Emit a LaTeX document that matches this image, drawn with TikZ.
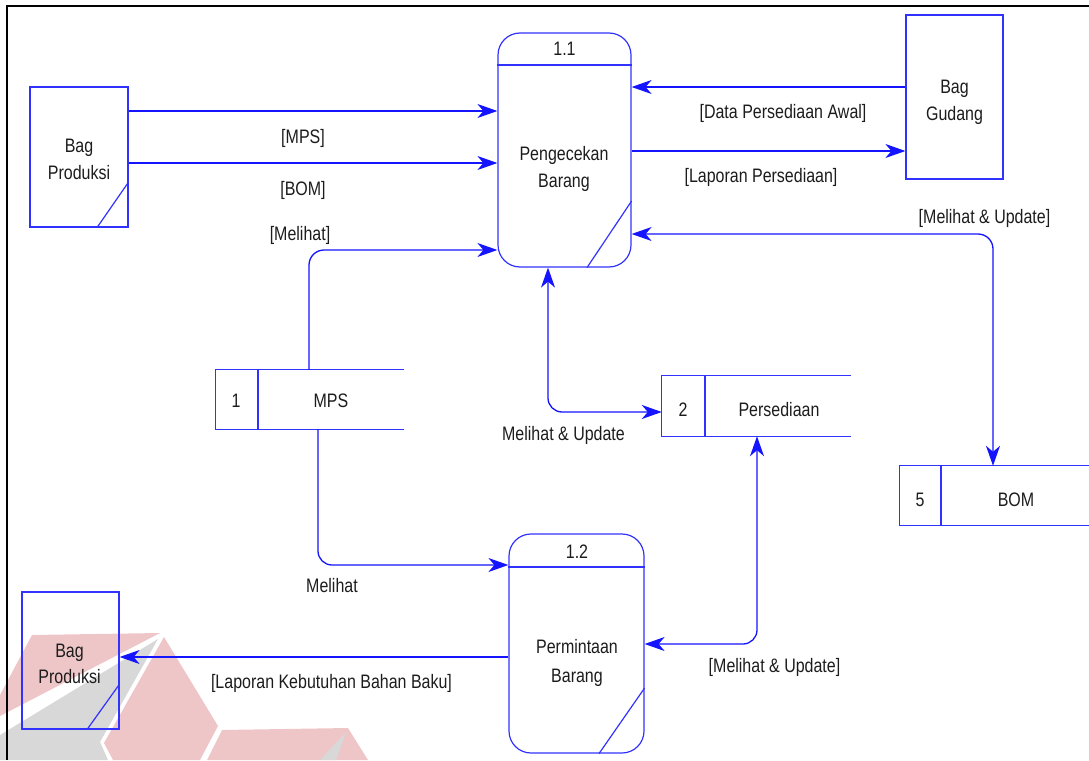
\documentclass[tikz,border=0pt]{standalone}
\usepackage{fontspec}
\setmainfont{Liberation Sans}[FakeStretch=0.82]
\usetikzlibrary{arrows.meta}
\definecolor{flowblue}{RGB}{20,20,255}
\definecolor{edgeblue}{RGB}{50,50,255}
\definecolor{inkgray}{RGB}{28,28,28}
\definecolor{wmred}{RGB}{238,198,200}
\definecolor{wmgray}{RGB}{216,216,216}

\begin{document}
\begin{tikzpicture}[x=1pt,y=-1pt,
  txt/.style={font=\fontsize{19.5}{23}\selectfont, text=inkgray, inner sep=0pt, anchor=base},
  entity/.style={draw=edgeblue, line width=1.2pt, rectangle, inner sep=0pt},
  proc/.style={entity, rounded corners=22pt},
  store/.style={rectangle, inner sep=0pt, draw=none},
  edge/.style={draw=edgeblue, line width=1.2pt},
  tip/.tip={Stealth[length=20pt,width=14pt,inset=6pt]},
  flow/.style={draw=flowblue, line width=1.3pt, -tip},
  flowboth/.style={draw=flowblue, line width=1.3pt, tip-tip},
  ]
\useasboundingbox (0,0) rectangle (1089,760);

% faint logo in the lower left corner
\fill[wmred] (32,635) -- (160,633) -- (0,716) -- (0,695) -- cycle;
\fill[wmgray] (158,639) -- (100,742) -- (108,760) -- (0,760) -- (0,735) -- cycle;
\fill[wmred] (164,637) -- (218,726) -- (200,760) -- (113,760) -- (104,743) -- cycle;
\fill[wmred] (222,730) -- (348,728) -- (368,760) -- (207,760) -- cycle;
\fill[wmgray] (346,732) -- (320,760) -- (336,760) -- cycle;

% outer frame
\draw[black, line width=2pt] (1089,6) -- (7,6) -- (7,760);

% external entities
\node[entity, minimum width=98pt, minimum height=140pt] (bpA) at (79,157) {};
\draw[edge] (bpA.east |- 0,182) -- (bpA.south -| 97,0);
\node[txt] (bpA1) at (79,152) {Bag};
\node[txt] (bpA2) at (79,179) {Produksi};

\node[entity, minimum width=97pt, minimum height=164pt] (bg) at (954.5,97) {};
\node[txt] (bg1) at (954.5,93) {Bag};
\node[txt] (bg2) at (954.5,120) {Gudang};

\node[entity, minimum width=97pt, minimum height=137pt] (bpB) at (70.5,660.5) {};
\draw[edge] (bpB.east |- 0,684) -- (bpB.south -| 87,0);
\node[txt] (bpB1) at (69.5,657) {Bag};
\node[txt] (bpB2) at (69.5,683) {Produksi};

% processes
\node[proc, minimum width=133pt, minimum height=234pt] (p11) at (564.5,150) {};
\draw[edge] (p11.west |- 0,65) -- (p11.east |- 0,65);
\draw[edge] (p11.east |- 0,201) -- (p11.south -| 587,0);
\node[txt] (p11n) at (564.5,56) {1.1};
\node[txt] (p11a) at (564,160) {Pengecekan};
\node[txt] (p11b) at (564,187) {Barang};

\node[proc, minimum width=135pt, minimum height=219pt] (p12) at (576.5,643.5) {};
\draw[edge] (p12.west |- 0,567) -- (p12.east |- 0,567);
\draw[edge] (p12.east |- 0,688) -- (p12.south -| 599,0);
\node[txt] (p12n) at (577,558) {1.2};
\node[txt] (p12a) at (577,653) {Permintaan};
\node[txt] (p12b) at (577,682) {Barang};

% data stores
\node[store, minimum width=188pt, minimum height=59pt] (mps) at (310,399.5) {};
\draw[edge] (mps.north east) -- (mps.north west) -- (mps.south west) -- (mps.south east);
\draw[edge] (mps.north -| 258,0) -- (mps.south -| 258,0);
\node[txt] (mps1) at (236,407) {1};
\node[txt] (mps2) at (331,407) {MPS};

\node[store, minimum width=189pt, minimum height=60pt] (pers) at (756.5,406) {};
\draw[edge] (pers.north east) -- (pers.north west) -- (pers.south west) -- (pers.south east);
\draw[edge] (pers.north -| 705,0) -- (pers.south -| 705,0);
\node[txt] (pers1) at (683,416) {2};
\node[txt] (pers2) at (779,416) {Persediaan};

\node[store, minimum width=189pt, minimum height=59pt] (bom) at (994.5,495.5) {};
\draw[edge] (bom.north east) -- (bom.north west) -- (bom.south west) -- (bom.south east);
\draw[edge] (bom.north -| 941,0) -- (bom.south -| 941,0);
\node[txt] (bom1) at (920,506) {5};
\node[txt] (bom2) at (1016,506) {BOM};

% data flows
\draw[flow] (bpA.east |- 0,111) -- (p11.west |- 0,111);
\node[txt] (fMPS) at (303,143) {[MPS]};
\draw[flow] (bpA.east |- 0,163) -- (p11.west |- 0,163);
\node[txt] (fBOM) at (303,195) {[BOM]};

\draw[flow, rounded corners=15pt] (mps.north -| 309,0) |- (p11.west |- 0,250);
\node[txt] (fMel) at (300,240) {[Melihat]};

\draw[flow] (bg.west |- 0,87) -- (p11.east |- 0,87);
\node[txt] (fAwal) at (783,118) {[Data Persediaan Awal]};
\draw[flow] (p11.east |- 0,151) -- (bg.west |- 0,151);
\node[txt] (fLap) at (761,182) {[Laporan Persediaan]};

\draw[flowboth, rounded corners=15pt] (p11.east |- 0,234) -| (bom.north -| 993,0);
\node[txt] (fMU1) at (984.5,223) {[Melihat \& Update]};

\draw[flowboth, rounded corners=14pt] (p11.south -| 548,0) |- (pers.west |- 0,412);
\node[txt] (fMU2) at (563.5,440) {Melihat \& Update};

\draw[flow, rounded corners=14pt] (mps.south -| 318,0) |- (p12.west |- 0,565);
\node[txt] (fMel2) at (332,592) {Melihat};

\draw[flowboth, rounded corners=14pt] (pers.south -| 757,0) |- (p12.east |- 0,644);
\node[txt] (fMU3) at (774.5,672) {[Melihat \& Update]};

\draw[flow] (p12.west |- 0,657) -- (bpB.east |- 0,657);
\node[txt] (fKeb) at (331.5,688) {[Laporan Kebutuhan Bahan Baku]};
\end{tikzpicture}
\end{document}
